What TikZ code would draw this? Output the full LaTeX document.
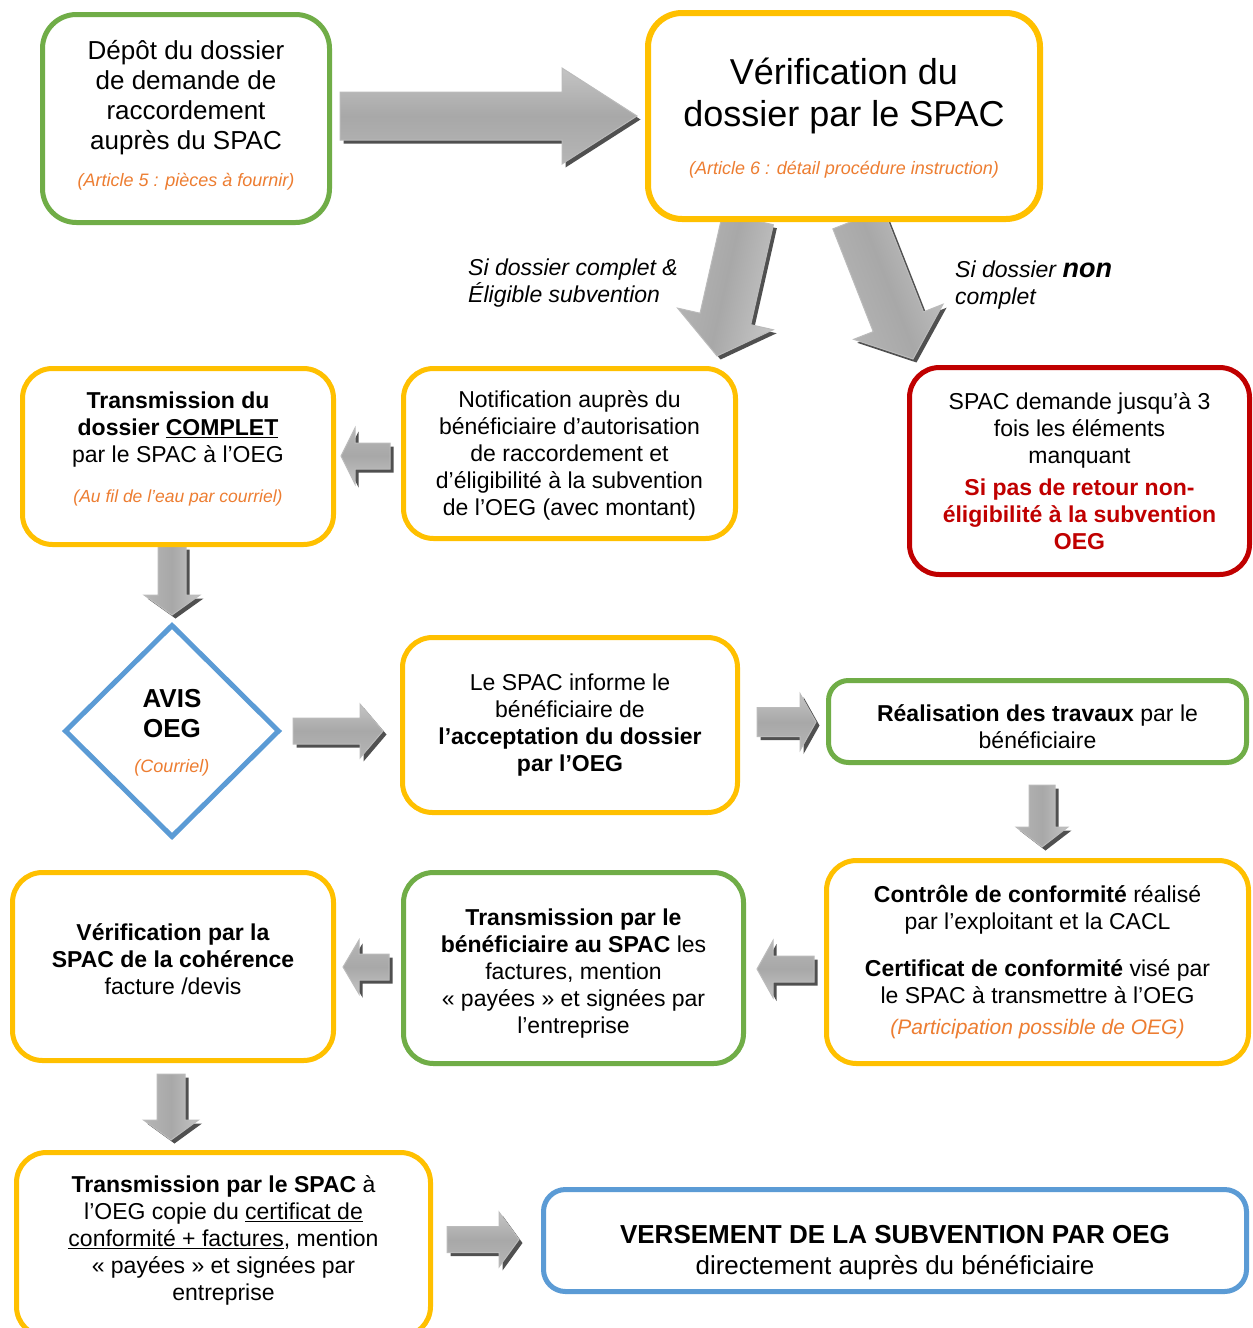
\documentclass[tikz,border=0pt]{standalone}
\usepackage{fontspec}
\setmainfont{Liberation Sans}
\usetikzlibrary{shapes.geometric,backgrounds,calc}
\definecolor{cgreen}{HTML}{70AD47}
\definecolor{cyellow}{HTML}{FFC000}
\definecolor{cblue}{HTML}{5B9BD5}
\definecolor{cred}{HTML}{C00000}
\definecolor{corange}{HTML}{ED7D31}
\definecolor{arrtop}{HTML}{C4C4C4}
\definecolor{arrmid}{HTML}{A8A8A8}
\definecolor{arrbot}{HTML}{B6B6B6}
\definecolor{arredge}{HTML}{BBBBBB}
\definecolor{arrshadow}{HTML}{505050}
\newcommand\fs[2]{\fontsize{#1pt}{#2pt}\selectfont}
\newcommand\orng[1]{{\color{corange}\itshape #1}}
\makeatletter
\newcommand\garrow[5]{%
 \pgfpointdiff{\pgfpointanchor{#1}{center}}{\pgfpointanchor{#2}{center}}%
 \edef\ga@dx{\the\pgf@x}\edef\ga@dy{\the\pgf@y}%
 \pgfmathsetmacro\ga@len{veclen(\ga@dx,\ga@dy)}%
 \pgfmathsetmacro\ga@ang{atan2(\ga@dy,\ga@dx)}%
 \pgfmathsetmacro\ga@base{\ga@len-#5}%
 \fill[arrshadow, shift={(#1)}, xshift=3.5pt, yshift=-3.5pt, rotate=\ga@ang]
   (0,-#3) -- (\ga@base,-#3) -- (\ga@base,-#4) -- (\ga@len,0) -- (\ga@base,#4) -- (\ga@base,#3) -- (0,#3) -- cycle;
 \shade[draw=arredge, line width=1pt, top color=arrtop, bottom color=arrbot, middle color=arrmid,
   shading angle=\ga@ang, shift={(#1)}, rotate=\ga@ang]
   (0,-#3) -- (\ga@base,-#3) -- (\ga@base,-#4) -- (\ga@len,0) -- (\ga@base,#4) -- (\ga@base,#3) -- (0,#3) -- cycle;
}
\makeatother
\begin{document}
\begin{tikzpicture}[x=1pt,y=-1pt,
  box/.style={draw, fill=white, rounded corners=30pt, line width=5pt, align=center, inner sep=0pt, font=\fs{23}{27}},
  lab/.style={inner sep=0pt, align=left, font=\fs{23}{27}\itshape}]
\useasboundingbox (0,0) rectangle (1253,1328);

\node[box, draw=cgreen, font=\fs{26}{30}, minimum width=287, minimum height=208, rounded corners=34, text depth=9.8pt] (dep) at (186,118.5)
  {Dépôt du dossier\\de demande de\\raccordement\\auprès du SPAC\\[7pt]\orng{\fs{18}{21}(Article 5 : pièces à fournir)}};
\node[box, draw=cyellow, line width=6pt, font=\fs{36}{42}, minimum width=392, minimum height=206, rounded corners=34, text depth=0pt] (ver) at (844,116)
  {Vérification du\\dossier par le SPAC\\[6pt]\orng{\fs{18}{21}(Article 6 : détail procédure instruction)}};

\node[lab, anchor=west] (l1) at (468,283.5) {Si dossier complet \&\\Éligible subvention};
\node[lab, anchor=west] (l2) at (955,285) {Si dossier {\bfseries\fs{27}{27}non}\\complet};

\node[box, draw=cyellow, minimum width=311, minimum height=176, text depth=19pt] (tr1) at (178,456.5)
  {\textbf{Transmission du}\\\textbf{dossier \underline{COMPLET}}\\par le SPAC à l’OEG\\[13pt]\orng{\fs{17.5}{21}(Au fil de l’eau par courriel)}};
\node[box, draw=cyellow, minimum width=332, minimum height=170, text depth=0pt] (notif) at (569.5,453.5)
  {Notification auprès du\\bénéficiaire d’autorisation\\de raccordement et\\d’éligibilité à la subvention\\de l’OEG (avec montant)};
\node[box, draw=cred, minimum width=340, minimum height=207] (spac) at (1079.5,471)
  {SPAC demande jusqu’à 3\\fois les éléments\\manquant\\[5pt]\textcolor{cred}{\textbf{Si pas de retour non-}}\\\textcolor{cred}{\textbf{éligibilité à la subvention}}\\\textcolor{cred}{\textbf{OEG}}};

\node[diamond, draw=cblue, fill=white, line width=5pt, inner sep=0pt, minimum width=215, minimum height=213, align=center, font=\fs{26}{30}, text depth=0pt] (dia) at (172,731)
  {\textbf{AVIS}\\\textbf{OEG}\\[5pt]\orng{\fs{18}{21}(Courriel)}};
\node[box, draw=cyellow, minimum width=335, minimum height=175] (inf) at (570,725)
  {Le SPAC informe le\\bénéficiaire de\\\textbf{l’acceptation du dossier}\\\textbf{par l’OEG}};
\node[box, draw=cgreen, minimum width=418, minimum height=82, rounded corners=20, text height=54pt, text depth=0pt] (real) at (1037.5,721.5)
  {\textbf{Réalisation des travaux} par le\\bénéficiaire};

\node[box, draw=cyellow, minimum width=422, minimum height=203] (ctrl) at (1037.5,962)
  {\textbf{Contrôle de conformité} réalisé\\par l’exploitant et la CACL\\[20pt]\textbf{Certificat de conformité} visé par\\le SPAC à transmettre à l’OEG\\[4pt]\orng{\fs{21}{24}(Participation possible de OEG)}};
\node[box, draw=cgreen, minimum width=340, minimum height=191, text height=130.8pt, text depth=0pt] (tb) at (573.5,968)
  {\textbf{Transmission par le}\\\textbf{bénéficiaire au SPAC} les\\factures, mention\\« payées » et signées par\\l’entreprise};
\node[box, draw=cyellow, minimum width=321, minimum height=188, text depth=14.4pt] (vp) at (173,966.5)
  {\textbf{Vérification par la}\\\textbf{SPAC de la cohérence}\\facture /devis};

\node[box, draw=cyellow, minimum width=414, minimum height=184, text depth=12.8pt] (ts) at (223.5,1244.5)
  {\textbf{Transmission par le SPAC} à\\l’OEG copie du \underline{certificat de}\\\underline{conformité + factures}, mention\\« payées » et signées par\\entreprise};
\node[box, draw=cblue, minimum width=703, minimum height=102, rounded corners=22, font=\fs{26}{31}, text height=67.6pt, text depth=0pt] (vers) at (895,1240.5)
  {\textbf{VERSEMENT DE LA SUBVENTION PAR OEG}\\directement auprès du bénéficiaire};

% connector end points
\coordinate (a1t) at ($(dep.east)+(8,-2.5)$);
\coordinate (a1h) at ($(a1t -| ver.west)+(-8,0)$);
\coordinate (a2t) at ($(ver.south)+(-96,-3)$);
\coordinate (a2h) at ($(notif.north)+(147.5,-10)$);
\coordinate (a3t) at ($(ver.south)+(14,-3)$);
\coordinate (a3h) at ($(spac.north)+(-166.5,-6)$);
\coordinate (a4t) at ($(notif.west)+(-11,2.5)$);
\coordinate (a4h) at ($(a4t -| tr1.east)+(5,0)$);
\coordinate (a5t) at ($(dia.north |- tr1.south)+(0,-1)$);
\coordinate (a5h) at ($(dia.north)+(0,-7)$);
\coordinate (a6t) at ($(dia.east)+(11,0)$);
\coordinate (a6h) at ($(a6t -| inf.west)+(-17,0)$);
\coordinate (a7t) at ($(inf.east)+(17,-3)$);
\coordinate (a7h) at ($(a7t -| real.west)+(-10,0)$);
\coordinate (a8t) at ($(real.south)+(4.5,20)$);
\coordinate (a8h) at ($(a8t |- ctrl.north)+(0,-11)$);
\coordinate (a9t) at ($(ctrl.west)+(-10,7)$);
\coordinate (a9h) at ($(a9t -| tb.east)+(11,0)$);
\coordinate (a10t) at ($(tb.west)+(-12,-1)$);
\coordinate (a10h) at ($(a10t -| vp.east)+(7,0)$);
\coordinate (a11t) at ($(vp.south)+(-2,11)$);
\coordinate (a11h) at ($(a11t |- ts.north)+(0,-10)$);
\coordinate (a12t) at ($(ts.east)+(14,-5)$);
\coordinate (a12h) at ($(a12t -| vers.west)+(-22,0)$);

\begin{pgfonlayer}{background}
\fill[white] (0,0) rectangle (1253,1328);
\garrow{a1t}{a1h}{24}{48}{75}
\garrow{a2t}{a2h}{26}{49}{38}
\garrow{a3t}{a3h}{27}{48}{40}
\garrow{a4t}{a4h}{13}{28}{14}
\garrow{a5t}{a5h}{14}{28}{20}
\garrow{a6t}{a6h}{13}{27}{23}
\garrow{a7t}{a7h}{14.5}{28.5}{16}
\garrow{a8t}{a8h}{13}{26}{20}
\garrow{a9t}{a9h}{13}{28.5}{16}
\garrow{a10t}{a10h}{13}{27}{16}
\garrow{a11t}{a11h}{14}{27.5}{20}
\garrow{a12t}{a12h}{13}{27.5}{20}
\end{pgfonlayer}
\end{tikzpicture}
\end{document}
